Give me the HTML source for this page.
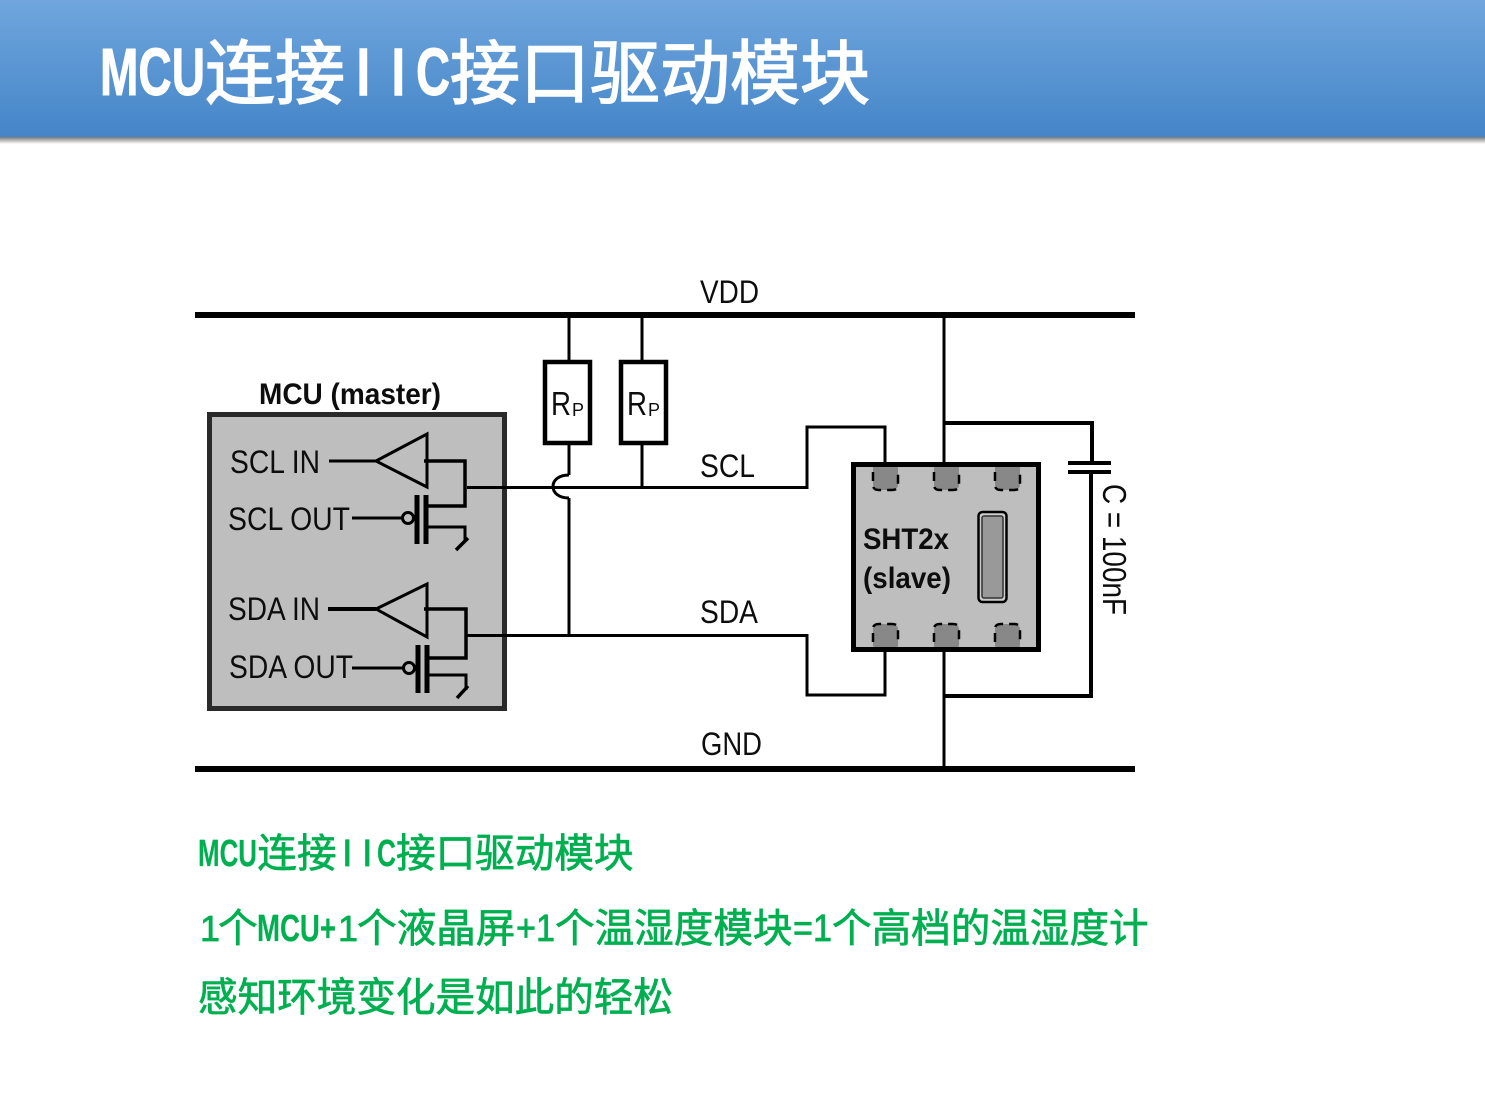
<!DOCTYPE html>
<html><head><meta charset="utf-8"><style>
html,body{margin:0;padding:0;background:#fff;width:1485px;height:1118px;overflow:hidden}
svg{display:block}
.z{font-family:"Noto Sans CJK SC","WenQuanYi Zen Hei",sans-serif}
.l{font-family:"Liberation Sans",sans-serif}
.d text{font-family:"Liberation Sans",sans-serif;fill:#111}
</style></head><body>
<svg width="1485" height="1118" viewBox="0 0 1485 1118" xmlns="http://www.w3.org/2000/svg">
<defs>
<linearGradient id="h" x1="0" y1="0" x2="0" y2="1"><stop offset="0" stop-color="#70a6dd"/><stop offset="1" stop-color="#4485c8"/></linearGradient>
<linearGradient id="s" x1="0" y1="0" x2="0" y2="1"><stop offset="0" stop-color="#777"/><stop offset="1" stop-color="#fff"/></linearGradient>
<filter id="b" x="-2%" y="-2%" width="104%" height="104%"><feGaussianBlur stdDeviation="0.3"/></filter>
</defs>
<rect x="0" y="137" width="1485" height="7" fill="url(#s)"/>
<rect x="0" y="0" width="1485" height="137" fill="url(#h)"/>
<g fill="#fff" stroke="#fff" stroke-width="1.500">
<text class="l" font-weight="700" x="100" y="95" font-size="67" textLength="105" lengthAdjust="spacingAndGlyphs" stroke-width="1">MCU</text>
<text class="z" font-weight="400" x="205" y="98" font-size="70">连接</text>
<text class="l" font-weight="400" x="354" y="95" font-size="67">I</text>
<text class="l" font-weight="400" x="389" y="95" font-size="67">I</text>
<text class="l" font-weight="700" x="416" y="95" font-size="67" textLength="34" lengthAdjust="spacingAndGlyphs" stroke-width="1">C</text>
<text class="z" font-weight="400" x="450" y="98" font-size="70">接口驱动模块</text>
</g>
<g class="d" fill="none" stroke="#000" stroke-linecap="butt" filter="url(#b)">
<path d="M195 315H1135M195 769H1135" stroke-width="6"/>
<rect x="209.500" y="414.500" width="295" height="294" fill="#bebebe" stroke="#2a2a2a" stroke-width="5"/>
<path d="M569 315V360M642 315V360M642 445V487M569 445V475M569 498V635" stroke-width="3"/>
<path d="M569 475C559 475 553 480 553 486.500C553 493 559 498 569 498" stroke-width="3"/>
<rect x="545" y="362" width="45" height="81" fill="#fff" stroke-width="4.500"/>
<rect x="621" y="362" width="45" height="81" fill="#fff" stroke-width="4.500"/>
<path d="M467 487.500H807V427H885V464M465 635.500H807V695H885V652" stroke-width="3"/>
<path d="M376 461L427 434V487Z" stroke-width="3" stroke-linejoin="miter"/>
<path d="M376 609L427 584V637Z" stroke-width="3"/>
<path d="M329 461H376M352 518H402M352 668H403" stroke-width="3"/>
<path d="M328 609H376" stroke-width="4"/>
<path d="M424 461H465V506H428M424 609H466V658H428" stroke-width="3.500"/>
<path d="M428 527H465V541M429 675H466V690" stroke-width="3"/>
<path d="M468 538L456 550M468 686L457 698" stroke-width="3.500"/>
<circle cx="408" cy="518" r="5.500" stroke-width="3"/>
<circle cx="409" cy="668" r="5.500" stroke-width="3"/>
<path d="M417 495V544M426 495V544M418 645V693M427 645V693" stroke-width="5"/>
<rect x="853.500" y="464.500" width="185" height="185" fill="#bebebe" stroke-width="5"/>
<g fill="#888" stroke="none">
<rect x="873" y="462" width="25" height="28" rx="5"/><rect x="934" y="462" width="25" height="28" rx="5"/><rect x="995" y="462" width="25" height="28" rx="5"/>
<rect x="873" y="624" width="25" height="26" rx="5"/><rect x="934" y="624" width="25" height="26" rx="5"/><rect x="995" y="624" width="25" height="26" rx="5"/>
</g>
<path d="M851 464.500H1041M851 649.500H1041" stroke-width="5"/>
<g stroke-width="2.500" stroke-dasharray="9 6">
<path d="M873 472V485Q873 490 879 490H892Q898 490 898 485V472M934 472V485Q934 490 940 490H953Q959 490 959 485V472M995 472V485Q995 490 1001 490H1014Q1020 490 1020 485V472"/>
<path d="M873 642V629Q873 624 879 624H892Q898 624 898 629V642M934 642V629Q934 624 940 624H953Q959 624 959 629V642M995 642V629Q995 624 1001 624H1014Q1020 624 1020 629V642"/>
</g>
<rect x="978.500" y="512" width="28" height="90" rx="4" fill="#ccc" stroke-width="2.500"/>
<rect x="982" y="516" width="21" height="82" rx="2" fill="#999" stroke="#333" stroke-width="1.500"/>
<path d="M944 315V464M944 652V769" stroke-width="3"/>
<path d="M944 423H1092V463" stroke-width="4"/>
<path d="M1091 472V696H943" stroke-width="4"/>
<path d="M1068 463H1111M1068 472H1111" stroke-width="4"/>
<g stroke="none">
<text x="700" y="303" font-size="32" textLength="59" lengthAdjust="spacingAndGlyphs">VDD</text>
<text x="700" y="477" font-size="32" textLength="55" lengthAdjust="spacingAndGlyphs">SCL</text>
<text x="700" y="623" font-size="32" textLength="58" lengthAdjust="spacingAndGlyphs">SDA</text>
<text x="701" y="755" font-size="32" textLength="61" lengthAdjust="spacingAndGlyphs">GND</text>
<text x="259" y="404" font-size="30" font-weight="700" textLength="182" lengthAdjust="spacingAndGlyphs">MCU (master)</text>
<text x="230" y="473" font-size="32" textLength="90" lengthAdjust="spacingAndGlyphs">SCL IN</text>
<text x="228" y="530" font-size="32" textLength="122" lengthAdjust="spacingAndGlyphs">SCL OUT</text>
<text x="228" y="620" font-size="32" textLength="92" lengthAdjust="spacingAndGlyphs">SDA IN</text>
<text x="229" y="678" font-size="32" textLength="124" lengthAdjust="spacingAndGlyphs">SDA OUT</text>
<text x="551" y="415" font-size="33" textLength="20" lengthAdjust="spacingAndGlyphs">R</text><text x="572" y="416" font-size="18">P</text>
<text x="627" y="415" font-size="33" textLength="20" lengthAdjust="spacingAndGlyphs">R</text><text x="648" y="416" font-size="18">P</text>
<text x="863" y="549" font-size="30" font-weight="700" textLength="86" lengthAdjust="spacingAndGlyphs">SHT2x</text>
<text x="863" y="588" font-size="30" font-weight="700" textLength="88" lengthAdjust="spacingAndGlyphs">(slave)</text>
<text transform="translate(1103,484) rotate(90)" font-size="33" textLength="131" lengthAdjust="spacingAndGlyphs">C = 100nF</text>
</g>
</g>
<g fill="#00b050" stroke="#00b050" stroke-width=".7" font-size="39.600">
<text class="l" font-weight="700" x="198" y="866" font-size="38" textLength="59" lengthAdjust="spacingAndGlyphs" stroke-width=".2">MCU</text>
<text class="z" font-weight="400" x="257.400" y="867">连接</text>
<text class="l" font-weight="400" x="342" y="866" font-size="38">I</text>
<text class="l" font-weight="400" x="362" y="866" font-size="38">I</text>
<text class="l" font-weight="700" x="377" y="866" font-size="38" textLength="19" lengthAdjust="spacingAndGlyphs" stroke-width=".2">C</text>
<text class="z" font-weight="400" x="396" y="867">接口驱动模块</text>

<text class="l" font-weight="400" x="200" y="941" font-size="36">1</text>
<text class="z" font-weight="400" x="218" y="942">个</text>
<text class="l" font-weight="700" x="257" y="941" font-size="38" textLength="79" lengthAdjust="spacingAndGlyphs" stroke-width=".2">MCU+</text>
<text class="l" font-weight="400" x="338" y="941" font-size="36">1</text>
<text class="z" font-weight="400" x="357" y="942">个液晶屏</text>
<text class="l" font-weight="400" x="516" y="941" font-size="38" textLength="39" lengthAdjust="spacingAndGlyphs">+1</text>
<text class="z" font-weight="400" x="555" y="942">个温湿度模块</text>
<text class="l" font-weight="400" x="793" y="941" font-size="38" textLength="39" lengthAdjust="spacingAndGlyphs">=1</text>
<text class="z" font-weight="400" x="832" y="942">个高档的温湿度计</text>

<text class="z" font-weight="400" x="198" y="1011">感知环境变化是如此的轻松</text>
</g>
</svg>
</body></html>
